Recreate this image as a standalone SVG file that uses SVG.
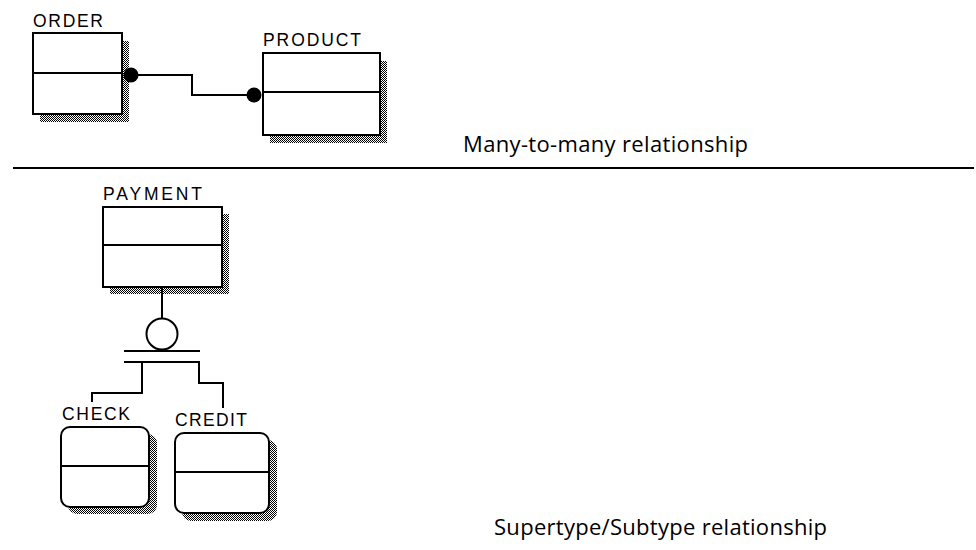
<svg xmlns="http://www.w3.org/2000/svg" width="976" height="550" viewBox="0 0 976 550">
<style>
.ent{fill:#fff;stroke:#000;stroke-width:2}
.div{stroke:#000;stroke-width:2}
.sh{fill:url(#dither)}
.lbl{font-family:"Liberation Sans",Arial,sans-serif;font-size:17.5px;fill:#000}
.cap{font-family:"Open Sans","Noto Sans",sans-serif;font-size:22px;fill:#000}
.con{fill:none;stroke:#000;stroke-width:2}
</style>
<defs>
<pattern id="dither" x="0" y="0" width="2" height="2" patternUnits="userSpaceOnUse">
<rect x="0" y="0" width="2" height="2" fill="#fff"/>
<rect x="0" y="0" width="1" height="1" fill="#000"/>
<rect x="1" y="1" width="1" height="1" fill="#000"/>
</pattern>
</defs>
<rect width="976" height="550" fill="#fff"/>

<g id="order">
<rect class="sh" x="40" y="41" width="89" height="81"/>
<rect class="ent" x="33" y="33" width="89" height="81"/>
<line class="div" x1="33" y1="73" x2="122" y2="73"/>
<text class="lbl" x="33" y="27" textLength="70">ORDER</text>
</g>

<g id="product">
<rect class="sh" x="270" y="61" width="117" height="82"/>
<rect class="ent" x="263" y="53" width="117" height="82"/>
<line class="div" x1="263" y1="92" x2="380" y2="92"/>
<text class="lbl" x="263" y="46" textLength="98">PRODUCT</text>
</g>

<g id="payment">
<rect class="sh" x="110" y="214" width="119" height="80"/>
<rect class="ent" x="103" y="207" width="119" height="80"/>
<line class="div" x1="103" y1="245" x2="222" y2="245"/>
<text class="lbl" x="103" y="200" textLength="99">PAYMENT</text>
</g>

<g id="check">
<rect class="sh" x="68" y="434" width="89" height="80" rx="9"/>
<rect class="ent" x="61" y="427" width="88" height="80" rx="9"/>
<line class="div" x1="61" y1="466" x2="149" y2="466"/>
<text class="lbl" x="62" y="420" textLength="68">CHECK</text>
</g>

<g id="credit">
<rect class="sh" x="182" y="440" width="95" height="81" rx="9"/>
<rect class="ent" x="175" y="433" width="94" height="80" rx="9"/>
<line class="div" x1="175" y1="472" x2="269" y2="472"/>
<text class="lbl" x="175" y="426" textLength="72">CREDIT</text>
</g>

<g id="connectors">
<polyline class="con" points="131,75 192,75 192,95 254,95"/>
<circle cx="131" cy="75" r="7.5" fill="#000"/>
<circle cx="254" cy="95" r="7.5" fill="#000"/>
<line class="con" x1="162" y1="287" x2="162" y2="318"/>
<circle cx="162" cy="334" r="15.5" fill="#fff" stroke="#000" stroke-width="2"/>
<line class="con" x1="124" y1="351" x2="200" y2="351"/>
<line class="con" x1="124" y1="362" x2="200" y2="362"/>
<polyline class="con" points="142,362 142,393 92,393 92,402"/>
<polyline class="con" points="199,362 199,383 223,383 223,408"/>
</g>

<line x1="13" y1="168" x2="974" y2="168" stroke="#000" stroke-width="2"/>
<text class="cap" x="463" y="152" textLength="285">Many-to-many relationship</text>
<text class="cap" x="494" y="535" textLength="333">Supertype/Subtype relationship</text>
</svg>
